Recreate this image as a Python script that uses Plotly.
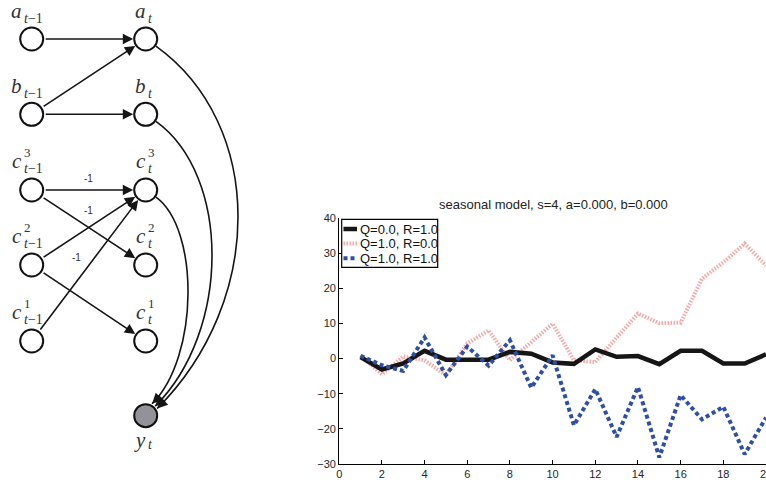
import plotly.graph_objects as go
import math

# ---------------- data: time series (right panel) ----------------
t = list(range(1, 21))
y_q0_r1 = [0.4, -3.1, -1.4, 2.2, -0.3, -0.3, -0.3, 1.9, 1.4, -1.1,
           -1.5, 2.6, 0.5, 0.7, -1.6, 2.2, 2.2, -1.4, -1.4, 1.2]
y_q1_r0 = [0.9, -4.5, 0.6, -0.5, -4.7, 4.3, 8.0, -0.5, 4.7, 9.9,
           -0.5, -1.0, 6.0, 12.8, 10.1, 10.2, 22.7, 27.4, 32.7, 26.5]
y_q1_r1 = [0.8, -1.9, -3.5, 6.0, -4.7, 3.4, -2.0, 5.2, -8.3, 0.9,
           -19.0, -8.7, -22.3, -8.1, -28.1, -10.4, -17.3, -13.7, -27.2, -16.8]
series_names = ["Q=0.0, R=1.0", "Q=1.0, R=0.0", "Q=1.0, R=1.0"]
x_ticks = list(range(0, 21, 2))
y_ticks = list(range(-30, 41, 10))
title_text = "seasonal model, s=4, a=0.000, b=0.000"

# ---------------- data: graphical model (left panel) ----------------
node_ids = ["a1", "a0", "b1", "b0", "c31", "c30", "c21", "c20", "c11", "c10", "y"]
node_x = [31.7, 145.7, 31.7, 145.7, 31.7, 145.7, 31.7, 145.7, 31.7, 145.7, 145.7]
node_y = [39, 39, 114.3, 114.3, 190, 190, 265, 265, 341, 341, 415.7]
node_letter = ["a", "a", "b", "b", "c", "c", "c", "c", "c", "c", "y"]
node_sup = ["", "", "", "", "3", "3", "2", "2", "1", "1", ""]
node_sub = ["t−1", "t", "t−1", "t", "t−1", "t", "t−1", "t", "t−1", "t", "t"]
node_observed = [False] * 10 + [True]
edges = [("a1", "a0"), ("b1", "a0"), ("b1", "b0"), ("c31", "c30"),
         ("c31", "c20"), ("c21", "c30"), ("c21", "c10"), ("c11", "c30")]
edge_labels = [("-1", 88, 178), ("-1", 88, 210.5), ("-1", 76.5, 257)]
curve_sources = ["a0", "b0", "c30"]
curve_reach = [238, 212, 188]          # rightmost x of each curve
curve_end_angle = [-32, -45, -62]       # where the curve hits y_t (deg)

W, H = 766, 480
pos = {k: (x, y) for k, x, y in zip(node_ids, node_x, node_y)}
R = 12.5

def px(x):
    return x / W

def py(y):
    return 1 - y / H

RED = "rgba(240,110,110,0.6)"
BLUE = "#2d4fa6"
BLACK = "#161616"

fig = go.Figure()

# ---------------- right panel traces ----------------
fig.add_trace(go.Scatter(x=t, y=y_q1_r0, mode="lines", name=series_names[1],
                         line=dict(color=RED, width=4, dash="1.5px,1.5px"),
                         xaxis="x", yaxis="y", showlegend=False))
fig.add_trace(go.Scatter(x=t, y=y_q0_r1, mode="lines", name=series_names[0],
                         line=dict(color=BLACK, width=4.5),
                         xaxis="x", yaxis="y", showlegend=False))
fig.add_trace(go.Scatter(x=t, y=y_q1_r1, mode="lines", name=series_names[2],
                         line=dict(color=BLUE, width=4, dash="4px,3px"),
                         xaxis="x", yaxis="y", showlegend=False))

# ---------------- left panel: nodes ----------------
fig.add_trace(go.Scatter(
    x=node_x, y=node_y, mode="markers", xaxis="x2", yaxis="y2", showlegend=False,
    marker=dict(size=23, color=["#929298" if o else "white" for o in node_observed],
                line=dict(color="#111111", width=2)),
    hoverinfo="skip"))

annotations = []
shapes = []

# straight edges
for s, d in edges:
    (x0, y0), (x1, y1) = pos[s], pos[d]
    annotations.append(dict(x=x1, y=y1, ax=x0, ay=y0, xref="x2", yref="y2",
                            axref="x2", ayref="y2", text="", showarrow=True,
                            arrowhead=2, arrowsize=1.3, arrowwidth=1.6,
                            arrowcolor="#151515", standoff=R, startstandoff=R))

# curved edges into y_t
yx, yy = pos["y"]
for src, reach, ang in zip(curve_sources, curve_reach, curve_end_angle):
    sx, sy = pos[src]
    p0 = (sx + R * math.cos(math.radians(35)), sy + R * math.sin(math.radians(35)))
    p3 = (yx + (R + 1) * math.cos(math.radians(ang)), yy + (R + 1) * math.sin(math.radians(ang)))
    X = (reach - 0.125 * (p0[0] + p3[0])) / 0.75
    p1 = (X, p0[1] + (X - p0[0]) * 0.72)
    p2 = (X, p3[1] - (X - p3[0]) * 1.0)
    path = f"M {p0[0]},{p0[1]} C {p1[0]},{p1[1]} {p2[0]},{p2[1]} {p3[0]},{p3[1]}"
    shapes.append(dict(type="path", path=path, xref="x2", yref="y2",
                       line=dict(color="#151515", width=1.6)))
    dx, dy = p2[0] - p3[0], p2[1] - p3[1]
    n = math.hypot(dx, dy)
    annotations.append(dict(x=p3[0], y=p3[1], ax=p3[0] + 9 * dx / n, ay=p3[1] + 9 * dy / n,
                            xref="x2", yref="y2", axref="x2", ayref="y2", text="",
                            showarrow=True, arrowhead=2, arrowsize=1.3, arrowwidth=1.6,
                            arrowcolor="#151515", standoff=0))

# node labels
serif = "Liberation Serif"
for k, x, y, L, sup, sub in zip(node_ids, node_x, node_y, node_letter, node_sup, node_sub):
    prev = sub != "t"
    split = x - 8 if prev else x + 2
    if k == "y":
        ly, suby = y + 24, y + 29
    elif L == "c":
        ly, suby = y - 29, y - 22
    else:
        ly, suby = y - 28, y - 21
    annotations.append(dict(x=split, y=ly, xref="x2", yref="y2", text=f"<i>{L}</i>",
                            showarrow=False, xanchor="right", yanchor="middle",
                            font=dict(family=serif, size=21, color="#333333")))
    subtxt = "<i>t</i>−1" if prev else "<i>t</i>"
    annotations.append(dict(x=split - 0.5, y=suby, xref="x2", yref="y2", text=subtxt,
                            showarrow=False, xanchor="left", yanchor="middle", borderpad=0,
                            font=dict(family=serif, size=14, color="#333333")))
    if sup:
        annotations.append(dict(x=split - 0.5, y=y - 38, xref="x2", yref="y2", text=sup,
                                showarrow=False, xanchor="left", yanchor="middle", borderpad=0,
                                font=dict(family=serif, size=13, color="#333333")))

for txt, x, y in edge_labels:
    annotations.append(dict(x=x, y=y, xref="x2", yref="y2", text=txt, showarrow=False,
                            font=dict(family="Liberation Sans", size=10, color="#333333")))

# ---------------- right panel: title + manual legend ----------------
annotations.append(dict(x=px(553), y=py(205), xref="paper", yref="paper", text=title_text,
                        showarrow=False, xanchor="center", yanchor="middle",
                        font=dict(family="Liberation Sans", size=13, color="#222222")))

shapes.append(dict(type="rect", xref="paper", yref="paper", x0=px(341.7), x1=px(437.7),
                   y0=py(219.3), y1=py(267.3), line=dict(color="black", width=1.2),
                   fillcolor="white", layer="above"))
leg_styles = [dict(color=BLACK, width=4.5),
              dict(color=RED, width=4, dash="1.5px,1.5px"),
              dict(color=BLUE, width=4, dash="4px,3px")]
leg_rows = [229, 243.5, 258.3]
for name, st, ry in zip(series_names, leg_styles, leg_rows):
    shapes.append(dict(type="line", xref="paper", yref="paper", x0=px(343.5), x1=px(357),
                       y0=py(ry), y1=py(ry), line=st, layer="above"))
    annotations.append(dict(x=px(357.5), y=py(ry), xref="paper", yref="paper", text=name,
                            showarrow=False, xanchor="left", yanchor="middle",
                            font=dict(family="Liberation Sans", size=13, color="#111111")))

axfont = dict(family="Liberation Sans", size=11, color="#262626")
fig.update_layout(
    template="none",
    width=W, height=H, margin=dict(l=0, r=0, t=0, b=0, pad=0, autoexpand=False),
    paper_bgcolor="white", plot_bgcolor="white",
    xaxis=dict(domain=[339.2 / W, 1], range=[0, 20], tickvals=x_ticks, ticks="inside",
               ticklen=4, tickcolor="black", showline=True, linecolor="black", linewidth=1,
               showgrid=False, zeroline=False, tickfont=axfont, ticklabeloverflow="allow",
               anchor="y", fixedrange=True, automargin=False),
    yaxis=dict(domain=[16 / H, 262 / H], range=[-30, 40], tickvals=y_ticks, ticks="inside",
               ticklen=4, tickcolor="black", showline=True, linecolor="black", linewidth=1,
               showgrid=False, zeroline=False, tickfont=axfont, anchor="x", fixedrange=True,
               automargin=False),
    xaxis2=dict(domain=[0, 260 / W], range=[0, 260], visible=False, anchor="y2",
                fixedrange=True, automargin=False),
    yaxis2=dict(domain=[0, 1], range=[480, 0], visible=False, anchor="x2",
                fixedrange=True, automargin=False),
    annotations=annotations, shapes=shapes, showlegend=False, hovermode=False,
)

post = ("document.documentElement.style.margin='0';document.documentElement.style.overflow='hidden';"
        "document.body.style.margin='0';document.body.style.overflow='hidden';"
        "var d=document.getElementById('{plot_id}');d.style.position='fixed';"
        "d.style.left='0px';d.style.top='0px';")
fig.write_html("out.html", config={"displayModeBar": False, "staticPlot": True},
               post_script=post)
